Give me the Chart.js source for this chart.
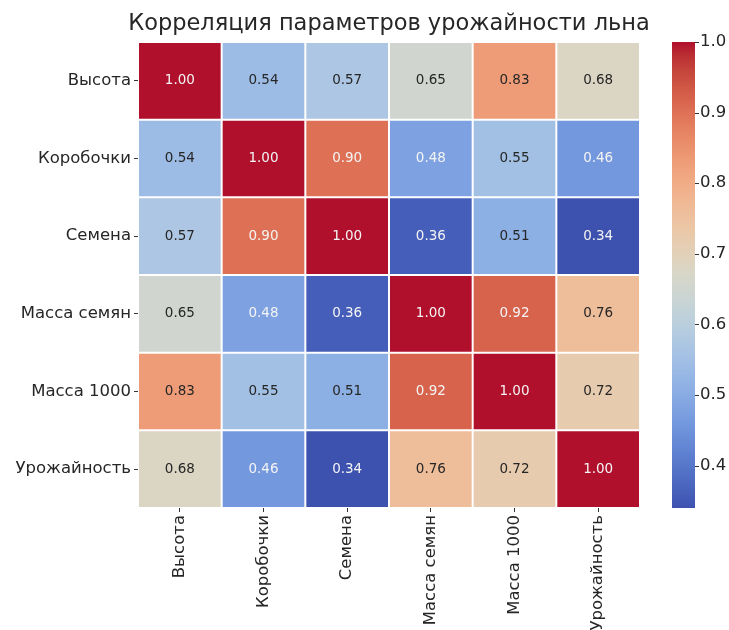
<!DOCTYPE html>
<html>
<head>
<meta charset="utf-8">
<title>Корреляция параметров урожайности льна</title>
<script src="https://cdn.jsdelivr.net/npm/chart.js"></script>
<style>
  body { margin: 0; background: #fff; }
  canvas { display: block; }
</style>
</head>
<body>
<canvas id="corrChart" width="729" height="630"></canvas>
<script>
var chartTitle = 'Корреляция параметров урожайности льна';
var colLabels = ['Высота', 'Коробочки', 'Семена', 'Масса семян', 'Масса 1000', 'Урожайность'];
var rowLabels = ['Высота', 'Коробочки', 'Семена', 'Масса семян', 'Масса 1000', 'Урожайность'];

var rowVysota      = [1.00, 0.54, 0.57, 0.65, 0.83, 0.68];
var rowKorobochki  = [0.54, 1.00, 0.90, 0.48, 0.55, 0.46];
var rowSemena      = [0.57, 0.90, 1.00, 0.36, 0.51, 0.34];
var rowMassaSemyan = [0.65, 0.48, 0.36, 1.00, 0.92, 0.76];
var rowMassa1000   = [0.83, 0.55, 0.51, 0.92, 1.00, 0.72];
var rowUrozhai     = [0.68, 0.46, 0.34, 0.76, 0.72, 1.00];
var corrRows = [rowVysota, rowKorobochki, rowSemena, rowMassaSemyan, rowMassa1000, rowUrozhai];

var colorbarTicks = [0.4, 0.5, 0.6, 0.7, 0.8, 0.9, 1.0];
var vMin = 0.34, vMax = 1.0;

// coolwarm (Moreland), 33 stops
var coolwarm = [
  [59,76,192],[68,90,204],[77,104,215],[87,117,225],[98,130,234],[108,142,241],
  [119,154,247],[130,165,251],[141,176,254],[152,185,255],[163,194,255],[174,201,253],
  [184,208,249],[194,213,244],[204,217,238],[213,219,230],[221,221,221],[229,216,209],
  [236,211,197],[241,204,184],[245,196,172],[247,187,160],[247,177,148],[247,166,135],
  [244,154,123],[241,141,111],[236,127,99],[229,112,88],[222,96,77],[213,80,66],
  [203,62,56],[192,40,47],[180,4,38]
];

function cmapRgb(t) {
  t = Math.max(0, Math.min(1, t));
  var p = t * (coolwarm.length - 1);
  var i = Math.min(Math.floor(p), coolwarm.length - 2);
  var f = p - i;
  var a = coolwarm[i], b = coolwarm[i + 1];
  return [0, 1, 2].map(function(k) { return a[k] + (b[k] - a[k]) * f; });
}
function valueRgb(v) { return cmapRgb((v - vMin) / (vMax - vMin)); }
// the reference print has muted blues, reds nearly untouched
function rgbStr(c) {
  var r = Math.round(0.95 * c[0] + 5);
  var g = Math.round(0.92 * c[1] + 12);
  var b = Math.round(0.85 * c[2] + 12);
  return 'rgb(' + r + ',' + g + ',' + b + ')';
}

// seaborn style choice of annotation colour
function luminance(c) {
  var l = c.map(function(x) {
    x = x / 255;
    return x <= 0.03928 ? x / 12.92 : Math.pow((x + 0.055) / 1.055, 2.4);
  });
  return 0.2126 * l[0] + 0.7152 * l[1] + 0.0722 * l[2];
}

var cellLabels = {
  id: 'cellLabels',
  afterDatasetsDraw: function(chart) {
    var ctx = chart.ctx;
    ctx.save();
    ctx.font = '13.5px "DejaVu Sans"';
    ctx.textAlign = 'center';
    ctx.textBaseline = 'middle';
    chart.data.datasets.forEach(function(ds, i) {
      var meta = chart.getDatasetMeta(i);
      meta.data.forEach(function(bar, j) {
        var v = corrRows[i][j];
        ctx.fillStyle = luminance(valueRgb(v)) > 0.408 ? '#262626' : '#f4f4f4';
        var pt = bar.getCenterPoint();
        ctx.fillText(v.toFixed(2), pt.x, pt.y);
      });
    });
    ctx.restore();
  }
};

// title centred over the heatmap, allowed to be wider than it
var heatTitle = {
  id: 'heatTitle',
  afterDraw: function(chart) {
    var a = chart.chartArea;
    var ctx = chart.ctx;
    ctx.save();
    ctx.font = '22.5px "DejaVu Sans"';
    ctx.fillStyle = '#262626';
    ctx.textAlign = 'center';
    ctx.textBaseline = 'alphabetic';
    ctx.fillText(chartTitle, (a.left + a.right) / 2, 30);
    ctx.restore();
  }
};

var colorbar = {
  id: 'colorbar',
  afterDraw: function(chart) {
    var sc = chart.scales.cb;
    var ctx = chart.ctx;
    var x0 = 672, w = 23;
    var yTop = sc.getPixelForValue(vMax), yBot = sc.getPixelForValue(vMin);
    var grad = ctx.createLinearGradient(0, yBot, 0, yTop);
    coolwarm.forEach(function(c, k) { grad.addColorStop(k / (coolwarm.length - 1), rgbStr(c)); });
    ctx.save();
    ctx.fillStyle = grad;
    ctx.fillRect(x0, yTop, w, yBot - yTop);
    ctx.strokeStyle = '#333';
    ctx.lineWidth = 1;
    colorbarTicks.forEach(function(t) {
      var y = Math.round(sc.getPixelForValue(t)) + 0.5;
      ctx.beginPath();
      ctx.moveTo(x0 + w, y);
      ctx.lineTo(x0 + w + 4, y);
      ctx.stroke();
    });
    ctx.restore();
  }
};

document.addEventListener('DOMContentLoaded', function() {
  var ctx = document.getElementById('corrChart').getContext('2d');
  var tickFont = { family: 'DejaVu Sans', size: 16.5 };

  var datasets = corrRows.map(function(row, i) {
    return {
      label: rowLabels[i],
      data: row.map(function() { return [i, i + 1]; }),
      backgroundColor: row.map(function(v) { return rgbStr(valueRgb(v)); }),
      borderColor: '#ffffff',
      borderWidth: 1,
      borderSkipped: false,
      inflateAmount: 0,
      grouped: false,
      barPercentage: 1,
      categoryPercentage: 1
    };
  });

  var corrChart = new Chart(ctx, {
    type: 'bar',
    data: { labels: colLabels, datasets: datasets },
    options: {
      responsive: false,
      animation: false,
      layout: { padding: { top: 42 } },
      plugins: {
        legend: { display: false },
        tooltip: { enabled: false },
        title: { display: false }
      },
      scales: {
        x: {
          type: 'category',
          position: 'bottom',
          grid: { display: true, drawOnChartArea: false, drawTicks: true, tickLength: 4, color: '#333', offset: false },
          border: { display: false },
          ticks: { color: '#262626', font: tickFont, minRotation: 90, maxRotation: 90, autoSkip: false, padding: 3 },
          afterFit: function(s) { s.height = 122; }
        },
        y: {
          type: 'linear',
          position: 'left',
          min: 0,
          max: 6,
          reverse: true,
          grid: { display: true, drawOnChartArea: false, drawTicks: true, tickLength: 4, color: '#333' },
          border: { display: false },
          afterBuildTicks: function(s) {
            s.ticks = rowLabels.map(function(_, i) { return { value: i + 0.5 }; });
          },
          ticks: {
            color: '#262626',
            font: tickFont,
            padding: 3,
            callback: function(v) { return rowLabels[Math.floor(v)]; }
          },
          afterFit: function(s) { s.width = 138; }
        },
        cb: {
          type: 'linear',
          axis: 'y',
          position: 'right',
          min: vMin,
          max: vMax,
          // hidden tick length only pushes the labels past the colour strip
          grid: { display: false, drawTicks: true, tickLength: 57 },
          border: { display: false },
          afterBuildTicks: function(s) {
            s.ticks = colorbarTicks.map(function(t) { return { value: t }; });
          },
          ticks: {
            color: '#262626',
            font: { family: 'DejaVu Sans', size: 16.5 },
            padding: 3,
            callback: function(v) { return v.toFixed(1); }
          },
          afterFit: function(s) { s.width = 89; }
        }
      }
    },
    plugins: [cellLabels, colorbar, heatTitle]
  });
});
</script>
</body>
</html>
